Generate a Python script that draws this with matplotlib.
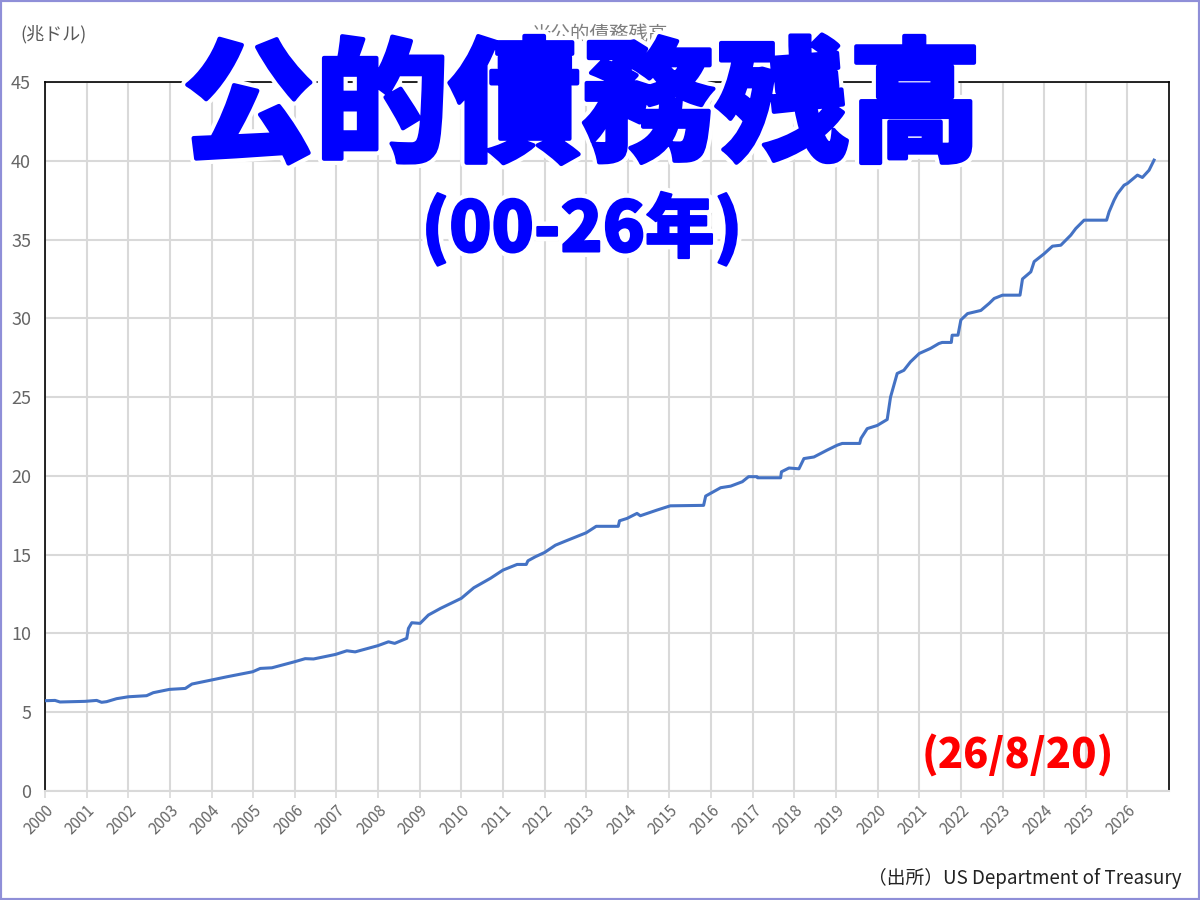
import matplotlib
matplotlib.use('Agg')
import matplotlib.pyplot as plt
import matplotlib.patheffects as pe
from matplotlib.patches import Rectangle

plt.rcParams['font.family'] = ['Noto Sans CJK JP', 'DejaVu Sans']

# 年(小数) と 公的債務残高(兆ドル)、グラフから読み取り
years = [2000.0, 2000.24, 2000.36, 2000.96, 2001.24, 2001.36, 2001.48, 2001.72, 2002.0,
         2002.44, 2002.6, 2002.99, 2003.37, 2003.53, 2003.99, 2004.37, 2004.99, 2005.17,
         2005.45, 2005.99, 2006.25, 2006.45, 2006.98, 2007.25, 2007.45, 2007.99, 2008.25,
         2008.4, 2008.69, 2008.73, 2008.81, 2009.01, 2009.21, 2009.5, 2010.0, 2010.3,
         2010.7, 2011.0, 2011.34, 2011.56, 2011.6, 2011.78, 2012.0, 2012.26, 2012.5,
         2013.0, 2013.24, 2013.77, 2013.8, 2013.98, 2014.22, 2014.3, 2014.7, 2015.02,
         2015.82, 2015.87, 2016.23, 2016.47, 2016.75, 2016.9, 2017.1, 2017.12, 2017.67,
         2017.69, 2017.87, 2018.11, 2018.23, 2018.47, 2018.79, 2019.03, 2019.15, 2019.57,
         2019.6, 2019.75, 2019.99, 2020.23, 2020.31, 2020.47, 2020.63, 2020.79, 2021.0,
         2021.27, 2021.47, 2021.55, 2021.77, 2021.79, 2021.93, 2022.0, 2022.16, 2022.48,
         2022.68, 2022.8, 2023.0, 2023.42, 2023.48, 2023.68, 2023.76, 2024.0, 2024.2,
         2024.4, 2024.64, 2024.76, 2024.96, 2025.5, 2025.56, 2025.68, 2025.76, 2025.92,
         2026.0, 2026.24, 2026.36, 2026.52, 2026.64]
debt = [5.73, 5.75, 5.65, 5.69, 5.75, 5.63, 5.67, 5.86, 5.98,
        6.05, 6.24, 6.45, 6.51, 6.79, 7.04, 7.25, 7.57, 7.78,
        7.82, 8.2, 8.4, 8.38, 8.67, 8.9, 8.83, 9.22, 9.47,
        9.37, 9.69, 10.32, 10.68, 10.64, 11.17, 11.59, 12.23, 12.9,
        13.5, 14.02, 14.38, 14.38, 14.61, 14.87, 15.14, 15.6, 15.86,
        16.39, 16.8, 16.8, 17.15, 17.3, 17.62, 17.47, 17.83, 18.1,
        18.13, 18.72, 19.25, 19.35, 19.63, 19.95, 19.95, 19.88, 19.88,
        20.26, 20.5, 20.45, 21.1, 21.2, 21.64, 21.95, 22.06, 22.06,
        22.38, 23.0, 23.2, 23.58, 25.0, 26.5, 26.7, 27.24, 27.77,
        28.09, 28.4, 28.47, 28.47, 28.93, 28.93, 29.9, 30.3, 30.5,
        30.95, 31.26, 31.47, 31.47, 32.5, 32.95, 33.6, 34.1, 34.58,
        34.64, 35.28, 35.7, 36.23, 36.23, 36.76, 37.5, 37.9, 38.45,
        38.56, 39.09, 38.94, 39.4, 40.04]

year_ticks = list(range(2000, 2027))
y_ticks = [0, 5, 10, 15, 20, 25, 30, 35, 40, 45]

fig = plt.figure(figsize=(12, 9), dpi=100)
ax = fig.add_axes([0.0375, 0.1211, 0.9367, 0.7878])

ax.plot(years, debt, color='#4472C4', linewidth=2.2, zorder=3)

ax.set_xlim(2000, 2027)
ax.set_ylim(0, 45)
ax.set_xticks(year_ticks)
ax.set_xticklabels([str(y) for y in year_ticks], rotation=45, ha='right',
                   rotation_mode='anchor', fontsize=11, color='#666666')
ax.set_yticks(y_ticks)
ax.set_yticklabels([str(v) for v in y_ticks], fontsize=13, color='#666666')
ax.tick_params(axis='y', length=0, pad=10)
ax.tick_params(axis='x', length=5, color='#D9D9D9', width=1.2, pad=3)
ax.grid(True, color='#D9D9D9', linewidth=1.5)
ax.set_axisbelow(True)
for s in ['left', 'top', 'right']:
    ax.spines[s].set_color('black')
    ax.spines[s].set_linewidth(1.2)
ax.spines['bottom'].set_color('#D9D9D9')
ax.spines['bottom'].set_linewidth(1.5)

# 枠線
fig.patches.append(Rectangle((0, 0), 1, 1, transform=fig.transFigure, fill=False,
                             edgecolor='#8F8FD8', linewidth=3))

fig.text(0.017, 0.962, '(兆ドル)', fontsize=13, color='#595959', va='center')
fig.text(0.5, 0.962, '米公的債務残高', fontsize=14, color='#7F7F7F', ha='center',
         va='center', zorder=1)

fig.text(0.485, 0.877, '公的債務残高', fontsize=96, fontweight='black', color='#0000FF',
         ha='center', va='center', zorder=5,
         path_effects=[pe.withStroke(linewidth=9, foreground='white'),
                       pe.withStroke(linewidth=3, foreground='#0000FF')])
fig.text(0.485, 0.745, '(00-26年)', fontsize=50, fontweight='black', color='#0000FF',
         ha='center', va='center', zorder=5,
         path_effects=[pe.withStroke(linewidth=8, foreground='white'),
                       pe.withStroke(linewidth=1.5, foreground='#0000FF')])
fig.text(0.848, 0.16, '(26/8/20)', fontsize=30, fontweight='black', color='#FF0000',
         ha='center', va='center')
fig.text(0.985, 0.024, '（出所）US Department of Treasury', fontsize=13.5, color='#222222',
         ha='right', va='center')

fig.savefig('out.png', dpi=100)
